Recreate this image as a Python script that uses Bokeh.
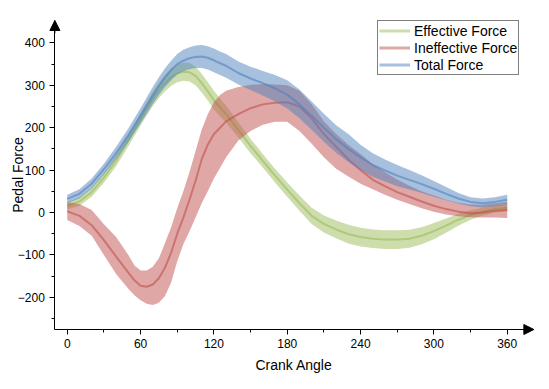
from bokeh.plotting import figure
from bokeh.models import Range1d, FixedTicker, Arrow, NormalHead, Legend, LegendItem, Label
from bokeh.embed import file_html
from bokeh.resources import INLINE
import math

# ---- data ----
angle = [0, 10, 20, 30, 40, 50, 55, 60, 65,
         70, 75, 80, 85, 90, 95, 100, 105, 110, 115, 120, 125, 130,
         140, 150, 160, 170, 180, 190, 200, 210, 220, 230, 240, 250, 260, 270,
         280, 290, 300, 310, 320, 330, 340, 350, 360]

eff_mean = [16, 26, 48, 82, 122, 170, 195, 220, 245,
            268, 288, 305, 319, 328, 332, 331, 322, 305, 286, 265, 248, 232,
            195, 157, 122, 87, 54, 22, -8, -27, -40, -51, -58, -62, -64, -64,
            -62, -55, -44, -31, -17, -6, 2, 8, 11]
eff_upper = [25, 36, 59, 94, 135, 184, 209, 235, 260,
             285, 306, 324, 339, 349, 353, 353, 344, 327, 308, 287, 269, 252,
             213, 174, 138, 103, 71, 40, 11, -7, -19, -29, -36, -40, -42, -42,
             -41, -35, -25, -14, -3, 5, 11, 16, 19]
eff_lower = [7, 16, 37, 70, 109, 156, 181, 205, 229,
             251, 270, 286, 299, 307, 311, 309, 300, 283, 264, 243, 227, 212,
             177, 140, 106, 71, 37, 4, -27, -47, -61, -73, -80, -84, -86, -86,
             -83, -75, -63, -48, -31, -17, -7, 0, 3]

ineff_mean = [3, -8, -30, -65, -104, -142, -160, -173, -175,
              -170, -155, -130, -95, -50, -12, 30, 75, 125, 160, 185, 200, 215,
              232, 246, 255, 259, 260, 250, 222, 185, 155, 125, 100, 77, 62, 48,
              37, 26, 16, 8, 2, -2, 0, 4, 6]
ineff_upper = [24, 20, 6, -28, -58, -100, -125, -137, -137,
               -128, -108, -72, -35, 10, 50, 95, 145, 195, 232, 260, 277, 287,
               296, 301, 303, 302, 300, 287, 255, 215, 185, 160, 138, 114, 95, 78,
               63, 50, 40, 30, 23, 19, 18, 22, 25]
ineff_lower = [-18, -32, -55, -100, -145, -180, -195, -207, -215,
               -218, -213, -197, -165, -115, -75, -45, -12, 22, 50, 80, 105, 130,
               170, 192, 207, 214, 214, 192, 162, 130, 103, 85, 68, 55, 42, 30,
               20, 10, 2, -5, -9, -11, -12, -12, -13]

total_mean = [32, 44, 68, 102, 140, 182, 205, 228, 252,
              276, 298, 318, 336, 350, 358, 364, 367, 368, 365, 359, 352, 346,
              329, 316, 305, 293, 278, 255, 228, 200, 173, 150, 130, 112, 99, 87,
              77, 67, 56, 44, 33, 25, 22, 25, 30]
total_upper = [42, 55, 80, 115, 155, 198, 222, 246, 271,
               296, 319, 340, 358, 374, 384, 390, 394, 395, 392, 387, 380, 374,
               356, 344, 334, 324, 312, 290, 262, 233, 206, 185, 160, 140, 125, 112,
               100, 88, 74, 60, 46, 36, 33, 36, 42]
total_lower = [22, 33, 56, 89, 126, 166, 188, 210, 233,
               256, 277, 296, 312, 326, 333, 338, 341, 341, 337, 331, 324, 318,
               302, 289, 276, 262, 245, 222, 195, 167, 141, 119, 100, 84, 73, 62,
               54, 46, 37, 29, 21, 15, 12, 14, 18]

series_names = ["Effective Force", "Ineffective Force", "Total Force"]
x_ticks = [0, 60, 120, 180, 240, 300, 360]
x_minor = [30, 90, 150, 210, 270, 330]
y_ticks = [-200, -100, 0, 100, 200, 300, 400]
y_minor = [-250, -150, -50, 50, 150, 250, 350]

# ---- styling ----
colors = ["#9BBB59", "#C0504D", "#4F81BD"]
FONT = "Liberation Sans"
# axis extents (data units) -- axes end in arrow heads at X1 / Y1
X0, X1 = -10.1, 381.8
Y0, Y1 = -276, 452.8
# visible data window (frame covers the whole canvas so the arrows are not clipped)
XV0, XV1 = -54.6, 394.6
YV0, YV1 = -417.5, 500.0

p = figure(width=549, height=389, output_backend="svg", toolbar_location=None,
           x_range=Range1d(XV0, XV1), y_range=Range1d(YV0, YV1),
           min_border_left=0, min_border_right=0, min_border_top=0,
           min_border_bottom=0)
p.outline_line_color = None
p.grid.visible = False
p.background_fill_color = "white"
p.border_fill_color = "white"

data = [(eff_mean, eff_upper, eff_lower),
        (ineff_mean, ineff_upper, ineff_lower),
        (total_mean, total_upper, total_lower)]

legend_items = []
for (m, up, lo), c, name in zip(data, colors, series_names):
    p.varea(x=angle, y1=lo, y2=up, fill_color=c, fill_alpha=0.5)
    p.line(angle, m, line_color=c, line_alpha=0.6, line_width=2)
    # off-screen sample line, only used for the legend swatch
    dummy = p.line([XV0 - 100, XV0 - 90], [0, 0], line_color=c, line_alpha=0.5, line_width=3)
    legend_items.append(LegendItem(label=name, renderers=[dummy]))

for ax in (p.xaxis[0], p.yaxis[0]):
    ax.axis_line_color = "black"
    ax.axis_line_width = 1
    ax.major_tick_in = 0
    ax.major_tick_out = 5
    ax.minor_tick_in = 0
    ax.minor_tick_out = 3
    ax.major_tick_line_color = "black"
    ax.minor_tick_line_color = "black"
    ax.major_label_text_font = FONT
    ax.major_label_text_font_size = "12px"
    ax.major_label_text_color = "black"
    ax.axis_label_text_font = FONT
    ax.axis_label_text_font_size = "14px"
    ax.axis_label_text_font_style = "normal"
    ax.axis_label_text_color = "black"

p.xaxis.fixed_location = Y0
p.yaxis.fixed_location = X0
p.xaxis.bounds = (X0, X1)
p.yaxis.bounds = (Y0, Y1)
p.xaxis.ticker = FixedTicker(ticks=x_ticks, minor_ticks=x_minor)
p.yaxis.ticker = FixedTicker(ticks=y_ticks, minor_ticks=y_minor)
p.xaxis.axis_label = "Crank Angle"
p.xaxis.major_label_standoff = 4
p.yaxis.major_label_standoff = 5
p.xaxis.axis_label_standoff = 6

# y-axis title placed as a label left of the tick labels
p.add_layout(Label(x=X0, y=(Y0 + Y1) / 2, x_offset=-37, text="Pedal Force",
                   angle=math.pi / 2, text_align="center", text_baseline="middle",
                   text_font=FONT, text_font_size="14px", text_color="black"))

# axis arrow heads
p.add_layout(Arrow(end=NormalHead(size=10, fill_color="black", line_color="black"),
                   x_start=X1 - 15, y_start=Y0, x_end=X1, y_end=Y0,
                   line_color="black", line_width=1))
p.add_layout(Arrow(end=NormalHead(size=10, fill_color="black", line_color="black"),
                   x_start=X0, y_start=Y1 - 30, x_end=X0, y_end=Y1,
                   line_color="black", line_width=1))

legend = Legend(items=legend_items, location=(377, 314), orientation="vertical",
                border_line_color="black", border_line_width=1,
                background_fill_color="white", background_fill_alpha=1,
                padding=1, spacing=0, margin=0,
                glyph_width=31, glyph_height=17, label_height=17,
                label_standoff=4, label_text_font=FONT,
                label_text_font_size="14px", label_text_color="black")
p.add_layout(legend)

open("out.html", "w").write(file_html(p, INLINE))
